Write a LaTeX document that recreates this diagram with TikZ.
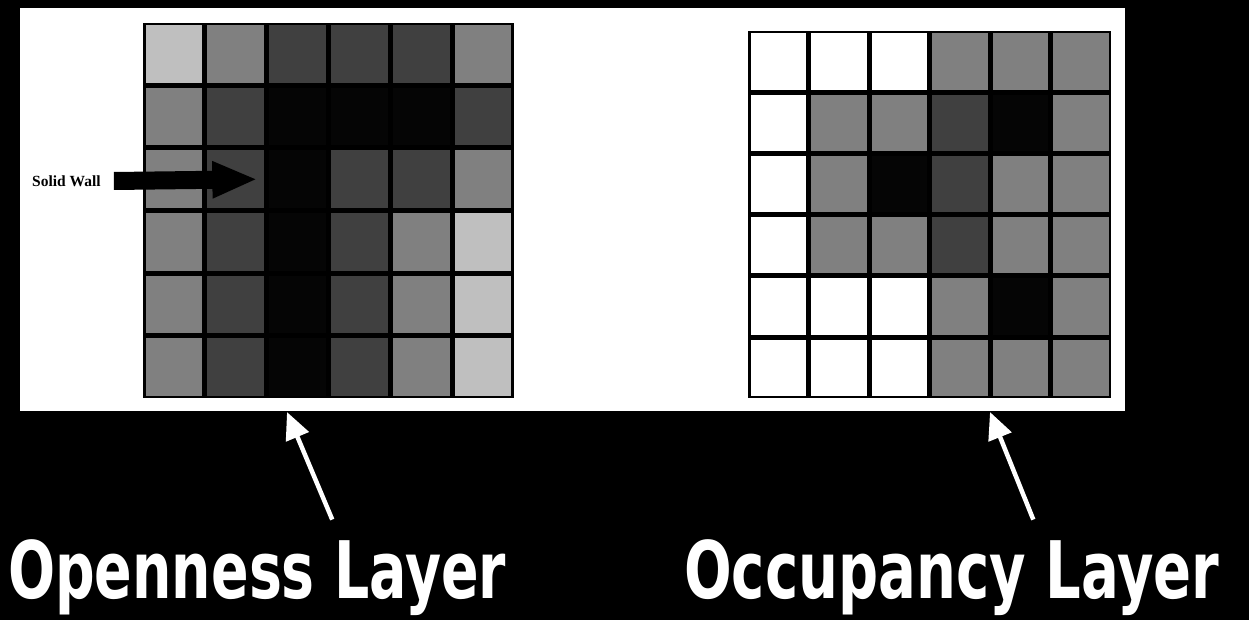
\documentclass[tikz,border=0pt]{standalone}
\usepackage{fontspec}
\setmainfont{Liberation Serif}
\newfontfamily\layerfont{DejaVu Sans}
\usetikzlibrary{arrows.meta}

\definecolor{greylight}{gray}{0.75}
\definecolor{greymid}{gray}{0.5}
\definecolor{greydark}{gray}{0.25}
\definecolor{greyblack}{gray}{0.02}

\tikzset{
  cell/.style={draw=black, line width=2.5pt, inner sep=0pt, outer sep=0pt,
    minimum width=\u*1pt-2.5pt, minimum height=\v*1pt-2.5pt},
  gw/.style={cell, fill=white},
  gl/.style={cell, fill=greylight},
  gm/.style={cell, fill=greymid},
  gd/.style={cell, fill=greydark},
  gk/.style={cell, fill=greyblack},
  layer/.style={text=white, inner sep=0pt, font=\layerfont\bfseries},
  pointer/.style={draw=white, line width=4.5pt, -{Triangle[length=27pt,width=24pt]}}
}

\begin{document}
\begin{tikzpicture}[x=1pt,y=-1pt]
\fill[black] (0,0) rectangle (1249,620);
\useasboundingbox (0,0) rectangle (1249,620);
\fill[white] (20,8) rectangle (1125,411);

% openness layer
\def\u{61.8}
\def\v{62.5}
\begin{scope}[shift={(143,23)}]
\node[gl] (a11) at (0.5*\u, 0.5*\v) {};
\node[gm] (a12) at (1.5*\u, 0.5*\v) {};
\node[gd] (a13) at (2.5*\u, 0.5*\v) {};
\node[gd] (a14) at (3.5*\u, 0.5*\v) {};
\node[gd] (a15) at (4.5*\u, 0.5*\v) {};
\node[gm] (a16) at (5.5*\u, 0.5*\v) {};
\node[gm] (a21) at (0.5*\u, 1.5*\v) {};
\node[gd] (a22) at (1.5*\u, 1.5*\v) {};
\node[gk] (a23) at (2.5*\u, 1.5*\v) {};
\node[gk] (a24) at (3.5*\u, 1.5*\v) {};
\node[gk] (a25) at (4.5*\u, 1.5*\v) {};
\node[gd] (a26) at (5.5*\u, 1.5*\v) {};
\node[gm] (a31) at (0.5*\u, 2.5*\v) {};
\node[gd] (a32) at (1.5*\u, 2.5*\v) {};
\node[gk] (a33) at (2.5*\u, 2.5*\v) {};
\node[gd] (a34) at (3.5*\u, 2.5*\v) {};
\node[gd] (a35) at (4.5*\u, 2.5*\v) {};
\node[gm] (a36) at (5.5*\u, 2.5*\v) {};
\node[gm] (a41) at (0.5*\u, 3.5*\v) {};
\node[gd] (a42) at (1.5*\u, 3.5*\v) {};
\node[gk] (a43) at (2.5*\u, 3.5*\v) {};
\node[gd] (a44) at (3.5*\u, 3.5*\v) {};
\node[gm] (a45) at (4.5*\u, 3.5*\v) {};
\node[gl] (a46) at (5.5*\u, 3.5*\v) {};
\node[gm] (a51) at (0.5*\u, 4.5*\v) {};
\node[gd] (a52) at (1.5*\u, 4.5*\v) {};
\node[gk] (a53) at (2.5*\u, 4.5*\v) {};
\node[gd] (a54) at (3.5*\u, 4.5*\v) {};
\node[gm] (a55) at (4.5*\u, 4.5*\v) {};
\node[gl] (a56) at (5.5*\u, 4.5*\v) {};
\node[gm] (a61) at (0.5*\u, 5.5*\v) {};
\node[gd] (a62) at (1.5*\u, 5.5*\v) {};
\node[gk] (a63) at (2.5*\u, 5.5*\v) {};
\node[gd] (a64) at (3.5*\u, 5.5*\v) {};
\node[gm] (a65) at (4.5*\u, 5.5*\v) {};
\node[gl] (a66) at (5.5*\u, 5.5*\v) {};
\end{scope}

% occupancy layer
\def\u{60.5}
\def\v{61.2}
\begin{scope}[shift={(748,31)}]
\node[gw] (b11) at (0.5*\u, 0.5*\v) {};
\node[gw] (b12) at (1.5*\u, 0.5*\v) {};
\node[gw] (b13) at (2.5*\u, 0.5*\v) {};
\node[gm] (b14) at (3.5*\u, 0.5*\v) {};
\node[gm] (b15) at (4.5*\u, 0.5*\v) {};
\node[gm] (b16) at (5.5*\u, 0.5*\v) {};
\node[gw] (b21) at (0.5*\u, 1.5*\v) {};
\node[gm] (b22) at (1.5*\u, 1.5*\v) {};
\node[gm] (b23) at (2.5*\u, 1.5*\v) {};
\node[gd] (b24) at (3.5*\u, 1.5*\v) {};
\node[gk] (b25) at (4.5*\u, 1.5*\v) {};
\node[gm] (b26) at (5.5*\u, 1.5*\v) {};
\node[gw] (b31) at (0.5*\u, 2.5*\v) {};
\node[gm] (b32) at (1.5*\u, 2.5*\v) {};
\node[gk] (b33) at (2.5*\u, 2.5*\v) {};
\node[gd] (b34) at (3.5*\u, 2.5*\v) {};
\node[gm] (b35) at (4.5*\u, 2.5*\v) {};
\node[gm] (b36) at (5.5*\u, 2.5*\v) {};
\node[gw] (b41) at (0.5*\u, 3.5*\v) {};
\node[gm] (b42) at (1.5*\u, 3.5*\v) {};
\node[gm] (b43) at (2.5*\u, 3.5*\v) {};
\node[gd] (b44) at (3.5*\u, 3.5*\v) {};
\node[gm] (b45) at (4.5*\u, 3.5*\v) {};
\node[gm] (b46) at (5.5*\u, 3.5*\v) {};
\node[gw] (b51) at (0.5*\u, 4.5*\v) {};
\node[gw] (b52) at (1.5*\u, 4.5*\v) {};
\node[gw] (b53) at (2.5*\u, 4.5*\v) {};
\node[gm] (b54) at (3.5*\u, 4.5*\v) {};
\node[gk] (b55) at (4.5*\u, 4.5*\v) {};
\node[gm] (b56) at (5.5*\u, 4.5*\v) {};
\node[gw] (b61) at (0.5*\u, 5.5*\v) {};
\node[gw] (b62) at (1.5*\u, 5.5*\v) {};
\node[gw] (b63) at (2.5*\u, 5.5*\v) {};
\node[gm] (b64) at (3.5*\u, 5.5*\v) {};
\node[gm] (b65) at (4.5*\u, 5.5*\v) {};
\node[gm] (b66) at (5.5*\u, 5.5*\v) {};
\end{scope}

% solid wall marker
\node[anchor=west, inner sep=0pt, font=\bfseries\fontsize{15.5}{18}\selectfont] (wall) at (32,181) {Solid Wall};
\draw[line width=18pt, -{Triangle[length=45pt,width=34pt]}] ([xshift=13pt]wall.east) -- ([xshift=-8pt]a32.east);

% captions
\node[layer, anchor=south west] (openness) at (8,616) {\resizebox*{498pt}{76pt}{Openness Layer}};
\node[layer, anchor=south west] (occupancy) at (684,616) {\resizebox*{535pt}{76pt}{Occupancy Layer}};
\coordinate (opentip) at (287,412);
\coordinate (occtip) at (990,412);
\draw[pointer] ([shift={(75,-20)}]openness.north) -- (opentip);
\draw[pointer] ([shift={(81.5,-20)}]occupancy.north) -- (occtip);
\end{tikzpicture}
\end{document}
